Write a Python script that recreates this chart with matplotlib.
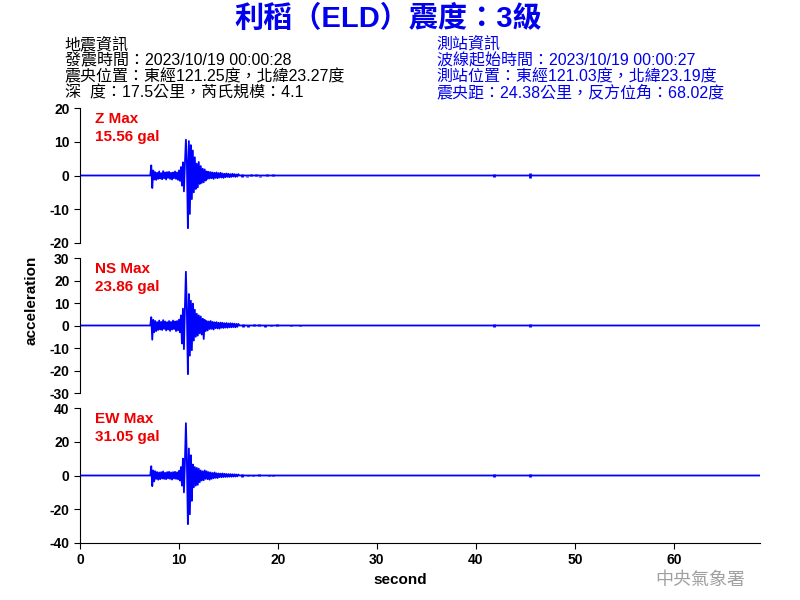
import matplotlib
matplotlib.use("Agg")
import matplotlib.pyplot as plt
import numpy as np

plt.rcParams['font.family'] = ['Liberation Sans', 'Noto Sans CJK TC', 'DejaVu Sans']
plt.rcParams['axes.unicode_minus'] = False

# Sampling of the strong-motion part (gal)
dt = 0.1
start = 7.2
record_end = 68.7

z_acc = [3.0, -3.7, 1.5, -1.2, 1.0, -1.3, 0.8, -1.0, 1.2, -0.9,
         0.7, -1.1, 1.3, -0.8, 0.9, -1.2, 1.0, -0.7, 1.1, -1.0,
         0.8, -1.2, 0.9, -0.8, 1.2, -1.0, 0.9, -1.3, 1.5, -1.6,
         2.5, -3.0, 3.9, -4.7, 3.5, 10.6, 4.0, -15.6, 10.2, -11.4,
         9.0, -7.0, 7.4, -5.0, 5.4, -4.0, 3.5, -3.5, 4.0, -2.5,
         2.8, -2.2, 2.0, -2.0, 1.8, -1.5, 1.2, -1.0, 1.1, -0.9,
         1.0, -0.8, 0.9, -1.0, 0.8, -0.7, 0.9, -0.8, 0.7, -0.6,
         0.8, -0.6, 0.6, -0.7, 0.5, -0.5, 0.6, -0.4, 0.5, -0.5,
         0.4, -0.4, 0.5, -0.3, 0.4, -0.4, 0.3, -0.3, 0.4]

ns_acc = [3.7, -6.3, 2.5, -3.0, 2.0, -2.5, 1.5, -2.0, 2.2, -1.8,
          1.6, -2.0, 2.4, -1.5, 1.8, -2.2, 1.5, -1.8, 2.0, -2.4,
          1.6, -1.8, 2.2, -1.6, 1.8, -2.5, 2.0, -2.2, 2.6, -3.0,
          4.5, -8.0, 7.5, -10.5, 8.0, 23.9, 6.0, -21.6, 14.0, -13.4,
          11.0, -11.0, 9.7, -6.7, 7.0, -5.0, 5.2, -4.5, 4.5, -3.5,
          4.0, -4.0, 3.0, -6.0, 2.5, -2.5, 2.0, -2.2, 1.8, -1.6,
          2.0, -1.5, 1.6, -1.8, 1.4, -1.2, 1.5, -1.3, 1.2, -1.4,
          1.3, -1.0, 1.2, -1.1, 1.0, -0.9, 1.1, -1.0, 0.9, -0.8,
          1.0, -0.8, 0.9, -0.7, 0.8, -0.8, 0.7, -0.6, 0.7]

ew_acc = [5.5, -6.3, 3.0, -3.5, 2.5, -2.0, 2.0, -2.5, 1.8, -2.2,
          2.0, -1.8, 2.4, -2.0, 1.6, -2.2, 2.0, -1.7, 2.2, -2.0,
          1.8, -2.4, 2.0, -1.8, 2.2, -2.0, 1.9, -2.3, 2.8, -3.0,
          5.0, -6.0, 10.0, -10.0, 8.0, 31.0, 8.0, -28.8, 16.0, -23.0,
          12.0, -15.0, 6.5, -7.0, 5.0, -6.0, 4.5, -5.5, 4.0, -4.0,
          3.0, -3.0, 2.5, -2.8, 3.0, -2.0, 2.5, -2.2, 2.0, -2.5,
          1.8, -2.0, 1.5, -1.6, 1.8, -1.4, 1.3, -1.5, 1.2, -1.0,
          1.1, -1.0, 1.2, -0.9, 1.0, -0.8, 0.9, -0.8, 0.8, -0.7,
          0.8, -0.7, 0.7, -0.6, 0.7, -0.6, 0.6, -0.5, 0.6]

# Sparse late spikes (time, low, high)
z_tail_t = [16.4, 16.9, 17.3, 17.8, 18.2, 18.9, 19.5, 41.8, 45.5]
z_tail_lo = [-0.3, -0.4, 0.0, 0.0, -0.4, 0.0, 0.0, -0.5, -0.6]
z_tail_hi = [0.5, 0.0, 0.5, 0.4, 0.0, 0.5, 0.4, 0.5, 0.6]

ns_tail_t = [16.5, 17.0, 17.6, 18.1, 18.7, 19.3, 19.9, 20.6, 21.3, 22.2, 41.8, 45.5]
ns_tail_lo = [-0.6, -0.5, -0.4, 0.0, -0.5, -0.4, 0.0, -0.4, 0.0, -0.3, -0.7, -0.7]
ns_tail_hi = [0.6, 0.4, 0.5, 0.5, 0.4, 0.3, 0.5, 0.0, 0.4, 0.3, 0.7, 0.7]

ew_tail_t = [16.4, 17.0, 17.5, 18.1, 18.6, 19.1, 19.5, 20.9, 41.8, 45.5]
ew_tail_lo = [-0.6, -0.5, -0.5, 0.0, -0.5, -0.4, 0.0, -0.5, -0.8, -0.8]
ew_tail_hi = [0.6, 0.5, 0.4, 0.6, 0.0, 0.4, 0.5, 0.0, 0.8, 0.8]

channels = ["Z", "NS", "EW"]
max_gal = ["15.56", "23.86", "31.05"]
y_limits = [20, 30, 40]
y_steps = [10, 10, 20]

header_left = ["地震資訊",
               "發震時間：2023/10/19 00:00:28",
               "震央位置：東經121.25度，北緯23.27度",
               "深  度：17.5公里，芮氏規模：4.1"]
header_right = ["測站資訊",
                "波線起始時間：2023/10/19 00:00:27",
                "測站位置：東經121.03度，北緯23.19度",
                "震央距：24.38公里，反方位角：68.02度"]

fig = plt.figure(figsize=(8, 6), dpi=100)

fig.text(0.485, 0.968, "利稻（ELD）震度：3級", ha='center', va='center',
         fontsize=21, fontweight='bold', color='#0000ee')
line_y = [0.926, 0.899, 0.872, 0.845]
for y, left, right in zip(line_y, header_left, header_right):
    fig.text(0.081, y, left, ha='left', va='center', fontsize=11.5,
             color='black', fontweight='medium')
    fig.text(0.546, y, right, ha='left', va='center', fontsize=11.5,
             color='#0000ee', fontweight='medium')

bottoms = [0.595, 0.345, 0.095]
traces = [(z_acc, z_tail_t, z_tail_lo, z_tail_hi),
          (ns_acc, ns_tail_t, ns_tail_lo, ns_tail_hi),
          (ew_acc, ew_tail_t, ew_tail_lo, ew_tail_hi)]

for i, (name, peak, lim, step, bottom, tr) in enumerate(
        zip(channels, max_gal, y_limits, y_steps, bottoms, traces)):
    acc, tail_t, tail_lo, tail_hi = tr
    ax = fig.add_axes([0.1, bottom, 0.85, 0.225])
    t = np.concatenate([[0.0, start - dt], start + dt * np.arange(len(acc)),
                        [start + dt * len(acc), record_end]])
    a = np.concatenate([[0.0, 0.0], acc, [0.0, 0.0]])
    ax.plot(t, a, color='#0000ff', lw=1.3)
    ax.vlines(tail_t, tail_lo, tail_hi, color='#0000ff', lw=2.0)
    ax.set_xlim(0, record_end)
    ax.set_ylim(-lim, lim)
    ax.set_yticks(np.arange(-lim, lim + 1, step))
    for s in ['top', 'right']:
        ax.spines[s].set_visible(False)
    ax.tick_params(axis='y', direction='out', length=4, labelsize=10)
    for lab in ax.get_yticklabels():
        lab.set_fontweight('bold')
    if i < 2:
        ax.spines['bottom'].set_visible(False)
        ax.set_xticks([])
    else:
        ax.set_xticks(np.arange(0, 61, 10))
        ax.tick_params(axis='x', direction='out', length=4, labelsize=10)
        for lab in ax.get_xticklabels():
            lab.set_fontweight('bold')
    ax.text(0.022, 0.97, f"{name} Max\n{peak} gal", transform=ax.transAxes,
            ha='left', va='top', fontsize=11, fontweight='bold', color='#ee0000',
            linespacing=1.35)

fig.text(0.04, 0.5, "acceleration", rotation=90, ha='center', va='center',
         fontsize=11, fontweight='bold')
fig.text(0.5, 0.033, "second", ha='center', va='center', fontsize=11,
         fontweight='bold')
fig.text(0.875, 0.032, "中央氣象署", ha='center', va='center', fontsize=13,
         color='#a0a0a0')

fig.savefig("out.png", dpi=100)
